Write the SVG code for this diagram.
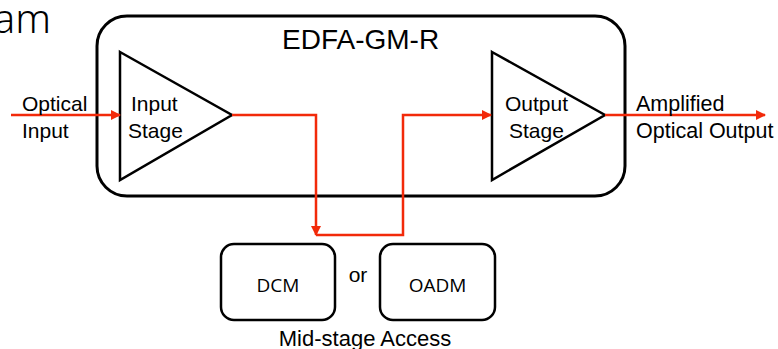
<svg xmlns="http://www.w3.org/2000/svg" width="778" height="349" viewBox="0 0 778 349">
<style>
.blk{fill:none;stroke:#000;stroke-width:3}
.tri{fill:#fff;stroke:#000;stroke-width:2.5;stroke-linejoin:miter}
.sm{fill:#fff;stroke:#000;stroke-width:2.5}
.red{fill:none;stroke:#f22a0a;stroke-width:2.5}
.t{font-family:"Liberation Sans",Arial,sans-serif;font-size:21px;fill:#000}
.c{font-family:"Open Sans","Noto Sans",sans-serif;font-size:19px;fill:#000}
</style>
<defs>
<marker id="ah" viewBox="0 0 10 10" refX="9" refY="5" markerWidth="4" markerHeight="4" orient="auto" markerUnits="strokeWidth">
<path d="M0,0 L10,5 L0,10 z" fill="#f22a0a"/>
</marker>
</defs>
<text x="51" y="33" text-anchor="end" style="font-family:'Noto Sans','Open Sans',sans-serif;font-size:40px;font-weight:300;fill:#000">am</text>
<g id="main">
<rect class="blk" x="97" y="16" width="528" height="180" rx="30"/>
<text class="t" x="282" y="49" style="font-size:28px">EDFA-GM-R</text>
</g>
<g id="input-stage">
<path class="tri" d="M120,52 L232,115 L120,180 Z"/>
<text class="t" x="131" y="111">Input</text>
<text class="t" x="128" y="138">Stage</text>
</g>
<g id="output-stage">
<path class="tri" d="M492,52 L605,115 L492,180 Z"/>
<text class="t" x="505" y="111">Output</text>
<text class="t" x="509" y="138">Stage</text>
</g>
<g id="dcm">
<rect class="sm" x="221" y="244" width="114" height="76" rx="13"/>
<text class="c" x="278" y="292" text-anchor="middle">DCM</text>
</g>
<g id="oadm">
<rect class="sm" x="380" y="244" width="115" height="76" rx="13"/>
<text class="c" x="437.5" y="292" text-anchor="middle">OADM</text>
</g>
<text class="t" x="358" y="282" text-anchor="middle">or</text>
<text class="t" x="365" y="346" text-anchor="middle" style="font-size:22px">Mid-stage Access</text>
<g id="connectors">
<line class="red" x1="11" y1="115" x2="120" y2="115" marker-end="url(#ah)"/>
<path class="red" d="M232,115 H316 V235" marker-end="url(#ah)"/>
<path class="red" d="M316,235 H403 V115 H491" marker-end="url(#ah)"/>
<line class="red" x1="605" y1="115" x2="765" y2="115" marker-end="url(#ah)"/>
</g>
<text class="t" x="22" y="111">Optical</text>
<text class="t" x="22" y="138">Input</text>
<text class="t" x="636" y="111" style="font-size:21.5px">Amplified</text>
<text class="t" x="636" y="138" style="font-size:21.5px">Optical Output</text>
</svg>
